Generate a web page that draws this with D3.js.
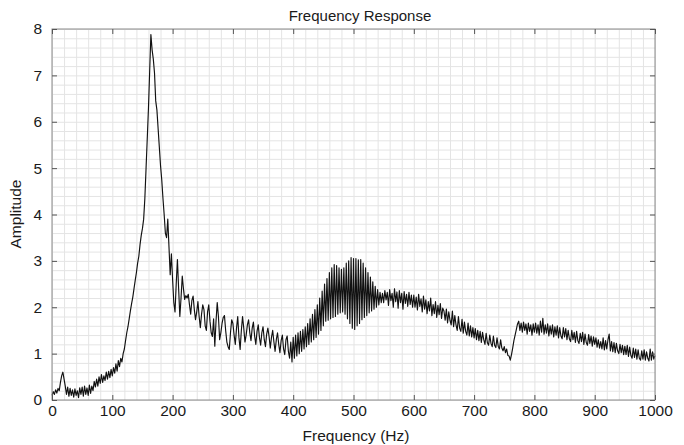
<!DOCTYPE html>
<html>
<head>
<meta charset="utf-8">
<script src="https://cdn.jsdelivr.net/npm/d3@7"></script>
<style>
  body { margin: 0; background: #fff; }
  svg { display: block; font-family: "Liberation Sans", Arial, Helvetica, sans-serif; }
  .tick text { font-size: 15.5px; fill: #1a1a1a; }
  .grid line { stroke: #e4e4e4; stroke-width: 1; }
  .grid .domain { display: none; }
  .edge line { stroke: #555; }
  .edge .domain { display: none; }
</style>
</head>
<body>
<div class="container"></div>
<script>
const WIDTH = 684;
const HEIGHT = 445;
const MARGIN = {top: 29, right: 29, bottom: 45, left: 52};
const INNER_WIDTH = WIDTH - MARGIN.left - MARGIN.right;
const INNER_HEIGHT = HEIGHT - MARGIN.top - MARGIN.bottom;

// frequency step of the sampled response (Hz)
const FREQ_STEP = 2;

// amplitude readings, one every 2 Hz from 0 to 1000 Hz, 25 per row (50 Hz)
const amplitude = [
  0.10,0.18,0.12,0.22,0.15,0.25,0.20,0.38,0.52,0.60,0.45,0.30,0.12,0.28,0.08,0.25,0.10,0.22,0.06,0.24,0.10,0.20,0.05,0.26,0.12,
  0.28,0.08,0.30,0.12,0.26,0.10,0.32,0.14,0.30,0.20,0.40,0.28,0.45,0.30,0.50,0.36,0.55,0.38,0.52,0.42,0.60,0.45,0.62,0.48,0.66,
  0.52,0.70,0.58,0.78,0.62,0.85,0.72,0.90,0.82,1.00,1.10,1.28,1.45,1.58,1.75,1.92,2.08,2.22,2.40,2.58,2.75,2.95,3.10,3.35,3.55,
  3.70,3.90,4.35,5.00,5.65,6.30,7.10,7.88,7.55,7.35,7.05,6.45,6.25,5.85,5.45,5.05,4.75,4.35,4.00,3.60,3.50,3.90,3.30,2.70,3.15,
  2.60,2.10,1.90,2.50,3.03,2.40,1.80,2.20,2.67,2.40,2.17,2.25,2.20,2.28,2.05,1.85,2.15,2.24,1.95,1.73,1.90,2.12,1.80,1.56,1.85,
  2.05,1.95,1.60,1.50,1.90,2.05,1.70,1.45,1.37,1.75,1.16,1.70,2.10,1.80,1.30,1.45,1.65,1.78,1.82,1.50,1.25,1.15,1.09,1.45,1.73,
  1.65,1.40,1.20,1.55,1.80,1.35,1.09,1.50,1.80,1.55,1.25,1.40,1.62,1.73,1.45,1.28,1.55,1.68,1.38,1.20,1.48,1.62,1.35,1.18,1.45,
  1.58,1.30,1.15,1.42,1.55,1.37,1.12,1.35,1.50,1.25,1.05,1.30,1.45,1.20,1.02,1.28,1.40,1.10,0.98,1.30,1.38,1.05,0.90,1.25,0.82,
  1.35,0.90,1.40,0.95,1.45,1.00,1.48,1.05,1.52,1.10,1.58,1.15,1.65,1.20,1.75,1.25,1.85,1.30,1.95,1.35,2.05,1.42,2.20,1.50,2.35,
  1.60,2.50,1.70,2.62,1.72,2.75,1.75,2.85,1.78,2.92,1.80,2.90,1.85,2.85,1.88,2.82,1.90,2.85,1.85,2.95,1.75,3.00,1.65,3.07,1.55,
  3.05,1.52,3.05,1.60,3.02,1.65,3.03,1.73,2.95,1.78,2.85,1.82,2.75,1.88,2.65,1.92,2.55,1.96,2.45,2.00,2.38,2.05,2.32,2.10,2.30,
  2.10,2.36,2.16,2.32,2.04,2.38,2.14,2.30,2.00,2.40,2.12,2.33,1.98,2.36,2.10,2.30,1.96,2.34,2.08,2.28,2.02,2.32,2.06,2.26,2.00,
  2.26,2.00,2.22,1.94,2.28,2.02,2.18,1.90,2.24,1.96,2.16,1.86,2.12,1.92,2.20,1.82,2.06,1.86,2.12,1.78,2.04,1.84,2.08,1.76,1.98,
  1.92,1.72,1.96,1.66,1.90,1.72,1.62,1.92,1.58,1.82,1.62,1.50,1.80,1.55,1.48,1.74,1.44,1.68,1.48,1.40,1.66,1.38,1.60,1.36,1.56,
  1.34,1.54,1.30,1.50,1.28,1.48,1.24,1.46,1.30,1.20,1.44,1.24,1.18,1.40,1.22,1.15,1.38,1.18,1.13,1.34,1.16,1.10,1.30,1.12,1.06,
  1.15,1.02,1.10,0.96,0.95,0.86,0.98,1.12,1.28,1.40,1.52,1.64,1.70,1.50,1.66,1.46,1.68,1.50,1.64,1.42,1.66,1.48,1.62,1.40,1.64,
  1.46,1.66,1.44,1.62,1.40,1.70,1.46,1.76,1.42,1.62,1.44,1.64,1.38,1.60,1.42,1.62,1.36,1.58,1.40,1.60,1.34,1.56,1.38,1.32,1.56,
  1.36,1.54,1.30,1.50,1.32,1.26,1.50,1.30,1.46,1.24,1.48,1.28,1.22,1.44,1.26,1.46,1.20,1.42,1.24,1.18,1.41,1.22,1.38,1.16,1.36,
  1.20,1.34,1.14,1.30,1.12,1.26,1.10,1.34,1.08,1.28,1.10,1.30,1.42,1.06,1.26,1.04,1.24,1.02,1.22,1.06,1.00,1.20,1.02,1.18,0.98,
  1.16,0.98,1.18,0.94,1.14,0.96,0.90,1.12,0.92,1.10,0.88,1.08,0.90,0.86,1.06,0.88,1.08,0.86,1.04,0.90,0.84,1.10,0.86,1.04,0.88,0.96
];

const xTicks = [0, 100, 200, 300, 400, 500, 600, 700, 800, 900, 1000];
const yTicks = [0, 1, 2, 3, 4, 5, 6, 7, 8];

var translate = function(x, y){
    return "translate(" + x + "," + y + ")";
};

var xScale = d3.scaleLinear().domain([0, 1000]).range([0, INNER_WIDTH]);
var yScale = d3.scaleLinear().domain([0, 8]).range([INNER_HEIGHT, 0]);

var svg = d3.select('.container').append('svg')
    .attr('width', WIDTH)
    .attr('height', HEIGHT);

var plot = svg.append('g').attr('transform', translate(MARGIN.left, MARGIN.top));

// minor + major grid (every 20 Hz, every 0.2)
var xGridValues = d3.range(0, 1001, 20);
var yGridValues = d3.range(0, 41).map(function(i){ return i / 5; });

plot.append('g').attr('class', 'grid')
    .attr('transform', translate(0, INNER_HEIGHT))
    .call(d3.axisBottom(xScale).tickValues(xGridValues).tickSize(-INNER_HEIGHT).tickFormat(''));
plot.append('g').attr('class', 'grid')
    .call(d3.axisLeft(yScale).tickValues(yGridValues).tickSize(-INNER_WIDTH).tickFormat(''));

// response line
var line = d3.line()
    .x(function(d, i){ return xScale(i * FREQ_STEP); })
    .y(function(d){ return yScale(d); });

plot.append('path')
    .datum(amplitude)
    .attr('d', line)
    .attr('fill', 'none')
    .attr('stroke', '#111')
    .attr('stroke-width', 1.15)
    .attr('stroke-linejoin', 'round');

// frame
plot.append('rect')
    .attr('width', INNER_WIDTH)
    .attr('height', INNER_HEIGHT)
    .attr('fill', 'none')
    .attr('stroke', '#8a8a8a')
    .attr('stroke-width', 1);

// inward ticks on all four sides
plot.append('g').attr('class', 'edge')
    .attr('transform', translate(0, INNER_HEIGHT))
    .call(d3.axisBottom(xScale).tickValues(xTicks).tickSize(-5).tickPadding(5).tickFormat(d3.format('d')));
plot.append('g').attr('class', 'edge')
    .call(d3.axisTop(xScale).tickValues(xTicks).tickSize(-5).tickFormat(''));
plot.append('g').attr('class', 'edge')
    .call(d3.axisLeft(yScale).tickValues(yTicks).tickSize(-5).tickPadding(10).tickFormat(d3.format('d')));
plot.append('g').attr('class', 'edge')
    .attr('transform', translate(INNER_WIDTH, 0))
    .call(d3.axisRight(yScale).tickValues(yTicks).tickSize(-5).tickFormat(''));

// titles
svg.append('text')
    .attr('x', 360).attr('y', 21)
    .attr('text-anchor', 'middle')
    .style('font-size', '15px').style('fill', '#1a1a1a')
    .text('Frequency Response');

svg.append('text')
    .attr('x', 356).attr('y', 441)
    .attr('text-anchor', 'middle')
    .style('font-size', '15.5px').style('fill', '#1a1a1a')
    .text('Frequency (Hz)');

svg.append('text')
    .attr('transform', translate(21, 214) + ' rotate(-90)')
    .attr('text-anchor', 'middle')
    .style('font-size', '15.5px').style('fill', '#1a1a1a')
    .text('Amplitude');
</script>
</body>
</html>
